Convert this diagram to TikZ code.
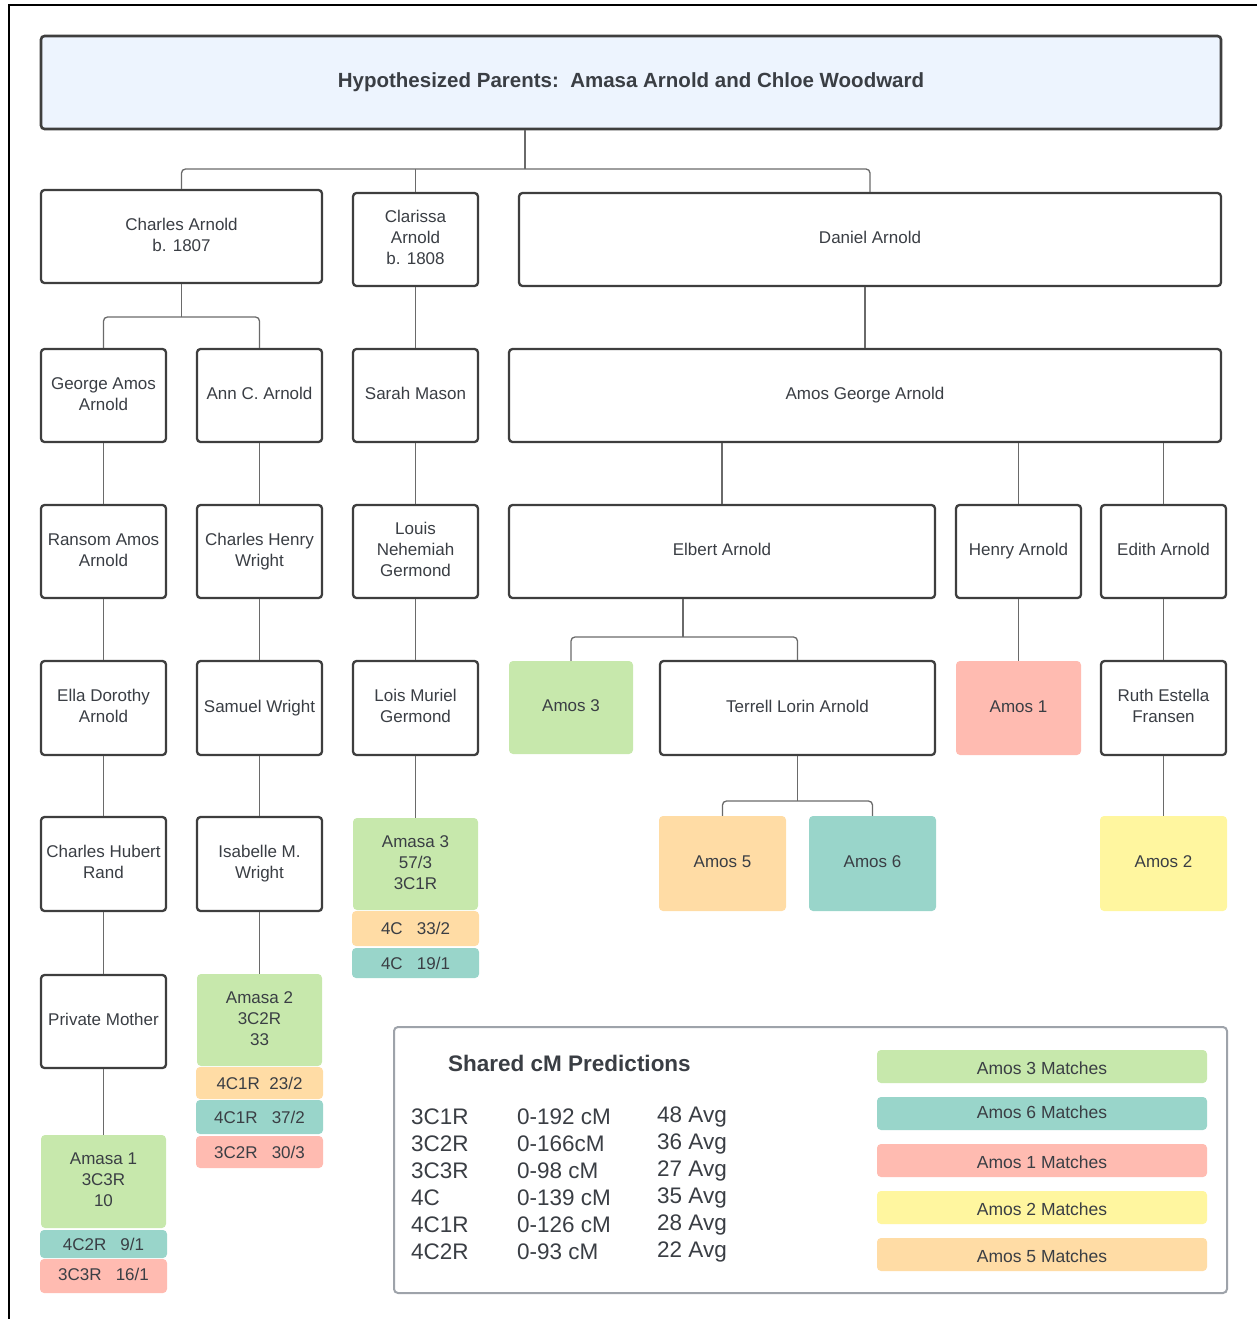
\documentclass[tikz,border=0pt]{standalone}
\usepackage{fontspec}
\setmainfont{Liberation Sans}
\definecolor{bordercol}{HTML}{3E3E3E}
\definecolor{conncol}{HTML}{6A6A6A}
\definecolor{txtcol}{HTML}{3A3E44}
\definecolor{topfill}{HTML}{EDF4FE}
\definecolor{cgreen}{HTML}{C7E8AC}
\definecolor{cteal}{HTML}{99D5CA}
\definecolor{csalmon}{HTML}{FFBBB1}
\definecolor{cyellow}{HTML}{FFF69F}
\definecolor{corange}{HTML}{FFDCA5}
\definecolor{legcol}{HTML}{9EA3AA}
\tikzset{
  pbox/.style={draw=bordercol, line width=2.3pt, rounded corners=3.5pt, fill=white, text=txtcol, align=center, inner sep=0pt, font=\fontsize{17}{21}\selectfont},
  cbox/.style={rounded corners=4pt, text=txtcol, align=center, inner sep=0pt, font=\fontsize{17}{21}\selectfont},
  conn/.style={draw=conncol, line width=1.3pt, rounded corners=4pt},
  tabtxt/.style={anchor=west, text=txtcol, inner sep=0pt, font=\fontsize{22.5}{27}\selectfont},
  legbar/.style={cbox, font=\fontsize{17.5}{21}\selectfont},
}
% tall tree boxes: text raised slightly
\newcommand\pbx[7]{\node[#6, minimum width={(#4-#2)*1pt}, minimum height={(#5-#3)*1pt}] (#1) at ({(#2+#4)/2},{(#3+#5)/2}) {\raisebox{2.5pt}{\begin{tabular}{@{}c@{}}#7\end{tabular}}};}
% plain boxes
\newcommand\qbx[7]{\node[#6, minimum width={(#4-#2)*1pt}, minimum height={(#5-#3)*1pt}] (#1) at ({(#2+#4)/2},{(#3+#5)/2}) {#7};}
\newcommand\shft[2]{\raisebox{#1}[\height][\depth]{#2}}
\begin{document}
\begin{tikzpicture}[x=1pt,y=-1pt]
\useasboundingbox (0,0) rectangle (1257,1319);
% outer frame (cropped)
\draw[black, line width=2pt] (9,1319) -- (9,5) -- (1257,5);
% top
\qbx{top}{41}{36}{1221}{129}{pbox, fill=topfill, line width=2.6pt}{\fontsize{20.5}{24}\selectfont\bfseries Hypothesized Parents:\ \ Amasa Arnold and Chloe Woodward}
% row 1
\pbx{charles}{41}{190}{322}{283}{pbox}{Charles Arnold\\b. 1807}
\pbx{clarissa}{353}{193}{478}{286}{pbox}{Clarissa\\Arnold\\b. 1808}
\pbx{daniel}{519}{193}{1221}{286}{pbox}{Daniel Arnold}
% row 2
\pbx{george}{41}{349}{166}{442}{pbox}{George Amos\\Arnold}
\pbx{ann}{197}{349}{322}{442}{pbox}{Ann C. Arnold}
\pbx{sarah}{353}{349}{478}{442}{pbox}{Sarah Mason}
\pbx{amosg}{509}{349}{1221}{442}{pbox}{Amos George Arnold}
% row 3
\pbx{ransom}{41}{505}{166}{598}{pbox}{Ransom Amos\\Arnold}
\pbx{chw}{197}{505}{322}{598}{pbox}{Charles Henry\\Wright}
\pbx{louis}{353}{505}{478}{598}{pbox}{Louis\\Nehemiah\\Germond}
\pbx{elbert}{509}{505}{935}{598}{pbox}{Elbert Arnold}
\pbx{henry}{956}{505}{1081}{598}{pbox}{Henry Arnold}
\pbx{edith}{1101}{505}{1226}{598}{pbox}{Edith Arnold}
% row 4
\pbx{ella}{41}{661}{166}{755}{pbox}{Ella Dorothy\\Arnold}
\pbx{samuel}{197}{661}{322}{755}{pbox}{Samuel Wright}
\pbx{lois}{353}{661}{478}{755}{pbox}{Lois Muriel\\Germond}
\pbx{amos3}{509}{661}{633}{754}{cbox, fill=cgreen}{Amos 3}
\pbx{terrell}{660}{661}{935}{755}{pbox}{Terrell Lorin Arnold}
\pbx{amos1}{956}{661}{1081}{755}{cbox, fill=csalmon}{Amos 1}
\pbx{ruth}{1101}{661}{1226}{755}{pbox}{Ruth Estella\\Fransen}
% row 5
\pbx{chr}{41}{817}{166}{911}{pbox}{Charles Hubert\\Rand}
\pbx{isabelle}{197}{817}{322}{911}{pbox}{Isabelle M.\\Wright}
\pbx{amasa3}{353}{818}{478}{910}{cbox, fill=cgreen}{Amasa 3\\57/3\\3C1R}
\qbx{amasa3a}{352}{911}{479}{946}{cbox, fill=corange}{4C\ \ \ 33/2}
\qbx{amasa3b}{352}{948}{479}{978}{cbox, fill=cteal}{4C\ \ \ 19/1}
\pbx{amos5}{659}{816}{786}{911}{cbox, fill=corange}{Amos 5}
\pbx{amos6}{809}{816}{936}{911}{cbox, fill=cteal}{Amos 6}
\pbx{amos2}{1100}{816}{1227}{911}{cbox, fill=cyellow}{Amos 2}
% row 6
\pbx{private}{41}{975}{166}{1068}{pbox}{Private Mother}
\pbx{amasa2}{197}{974}{322}{1066}{cbox, fill=cgreen}{Amasa 2\\3C2R\\33}
\qbx{amasa2a}{196}{1067}{323}{1099}{cbox, fill=corange}{4C1R\ \ 23/2}
\qbx{amasa2b}{196}{1100}{323}{1134}{cbox, fill=cteal}{4C1R\ \ \ 37/2}
\qbx{amasa2c}{196}{1136}{323}{1168}{cbox, fill=csalmon}{3C2R\ \ \ 30/3}
% row 7
\pbx{amasa1}{41}{1135}{166}{1228}{cbox, fill=cgreen}{Amasa 1\\3C3R\\10}
\qbx{amasa1a}{40}{1230}{167}{1258}{cbox, fill=cteal}{4C2R\ \ \ 9/1}
\qbx{amasa1b}{40}{1259}{167}{1293}{cbox, fill=csalmon}{\shft{1.5pt}{3C3R\ \ \ 16/1}}
% connectors
\coordinate (j1) at (525,169);
\draw[conn] (top.south -| j1) -- (j1);
\draw[conn] (charles.north) |- (j1) -| (daniel.north);
\draw[conn] (clarissa.north) -- (clarissa.north |- j1);
\coordinate (j2) at (181.5,317);
\draw[conn] (charles.south) -- (j2);
\draw[conn] (george.north) |- (j2) -| (ann.north);
\draw[conn] (clarissa.south) -- (sarah.north);
\draw[conn] (amosg.north) -- (amosg.north |- daniel.south);
\draw[conn] (george.south) -- (ransom.north);
\draw[conn] (ransom.south) -- (ella.north);
\draw[conn] (ella.south) -- (chr.north);
\draw[conn] (chr.south) -- (private.north);
\draw[conn] (private.south) -- (amasa1.north);
\draw[conn] (ann.south) -- (chw.north);
\draw[conn] (chw.south) -- (samuel.north);
\draw[conn] (samuel.south) -- (isabelle.north);
\draw[conn] (isabelle.south) -- (amasa2.north);
\draw[conn] (sarah.south) -- (louis.north);
\draw[conn] (louis.south) -- (lois.north);
\draw[conn] (lois.south) -- (amasa3.north);
\draw[conn] (elbert.north) -- (elbert.north |- amosg.south);
\draw[conn] (henry.north) -- (henry.north |- amosg.south);
\draw[conn] (edith.north) -- (edith.north |- amosg.south);
\coordinate (j3) at (683,637);
\draw[conn] (elbert.south -| j3) -- (j3);
\draw[conn] (amos3.north) |- (j3) -| (terrell.north);
\draw[conn] (henry.south) -- (amos1.north);
\draw[conn] (edith.south) -- (ruth.north);
\draw[conn] (ruth.south) -- (amos2.north);
\coordinate (j4) at (797.5,801);
\draw[conn] (terrell.south) -- (j4);
\draw[conn] (amos5.north) |- (j4) -| (amos6.north);
% legend
\qbx{legend}{394}{1027}{1227}{1293}{draw=legcol, line width=2pt, rounded corners=4pt, fill=white}{}
\node[anchor=west, text=txtcol, inner sep=0pt, font=\fontsize{22.5}{27}\selectfont\bfseries] (legtitle) at (448,1063) {Shared cM Predictions};
\node[tabtxt] (r1a) at (411,1117) {3C1R};
\node[tabtxt] (r1b) at (517,1117) {0-192 cM};
\node[tabtxt] (r1c) at (657,1117) {48 Avg};
\node[tabtxt] (r2a) at (411,1144) {3C2R};
\node[tabtxt] (r2b) at (517,1144) {0-166cM};
\node[tabtxt] (r2c) at (657,1144) {36 Avg};
\node[tabtxt] (r3a) at (411,1171) {3C3R};
\node[tabtxt] (r3b) at (517,1171) {0-98 cM};
\node[tabtxt] (r3c) at (657,1171) {27 Avg};
\node[tabtxt] (r4a) at (411,1198) {4C};
\node[tabtxt] (r4b) at (517,1198) {0-139 cM};
\node[tabtxt] (r4c) at (657,1198) {35 Avg};
\node[tabtxt] (r5a) at (411,1225) {4C1R};
\node[tabtxt] (r5b) at (517,1225) {0-126 cM};
\node[tabtxt] (r5c) at (657,1225) {28 Avg};
\node[tabtxt] (r6a) at (411,1252) {4C2R};
\node[tabtxt] (r6b) at (517,1252) {0-93 cM};
\node[tabtxt] (r6c) at (657,1252) {22 Avg};
\qbx{lg3}{877}{1050}{1207}{1083}{legbar, fill=cgreen}{\shft{-2pt}{Amos 3 Matches}}
\qbx{lg6}{877}{1097}{1207}{1130}{legbar, fill=cteal}{\shft{1.5pt}{Amos 6 Matches}}
\qbx{lg1}{877}{1144}{1207}{1177}{legbar, fill=csalmon}{\shft{-2pt}{Amos 1 Matches}}
\qbx{lg2}{877}{1191}{1207}{1224}{legbar, fill=cyellow}{\shft{-2pt}{Amos 2 Matches}}
\qbx{lg5}{877}{1238}{1207}{1271}{legbar, fill=corange}{\shft{-1.5pt}{Amos 5 Matches}}
\end{tikzpicture}
\end{document}
